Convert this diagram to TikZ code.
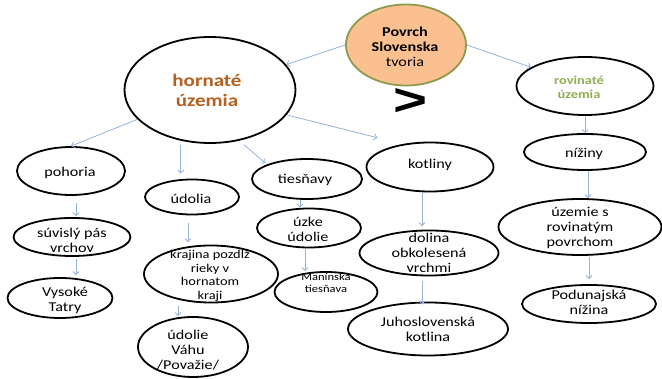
\documentclass[tikz,border=0pt]{standalone}
\usepackage{fontspec}
\setmainfont{Carlito}[FakeStretch=1.2]
\newfontfamily\gtfont{Liberation Sans}
\usetikzlibrary{arrows.meta,shapes.geometric}
\definecolor{arrc}{HTML}{95B3D7}
\definecolor{horncol}{HTML}{B5601E}
\definecolor{rovcol}{HTML}{8FAF55}
\definecolor{povfill}{HTML}{FAC090}
\definecolor{povdraw}{HTML}{8E9A4E}
\begin{document}
\begin{tikzpicture}[x=1pt,y=-1pt,
  ell/.style={ellipse, draw=black, line width=1.8pt, inner sep=0pt},
  sz/.style 2 args={minimum width=#1pt, minimum height=#2pt},
  txt/.style={align=center, inner sep=0pt, font=\fontsize{13.5}{15}\selectfont},
  arr/.style={draw=arrc, line width=0.8pt, -{Straight Barb[length=3pt,width=6pt]}}
]
\fill[white] (0,0) rectangle (662,379);
\useasboundingbox (0,0) rectangle (662,379);

% ellipses
\node[ell, sz={120}{81}, fill=povfill, draw=povdraw] (pov) at (406,45) {};
\node[ell, sz={171}{106}] (horn) at (210,90) {};
\node[ell, sz={137}{58}] (rov) at (585,86) {};
\node[ell, sz={108}{48}] (poh) at (71,171) {};
\node[ell, sz={94}{35}] (udo) at (192,197) {};
\node[ell, sz={110}{40}] (ties) at (307,179) {};
\node[ell, sz={127}{49}] (kot) at (430,167) {};
\node[ell, sz={122}{36}] (niz) at (585,152) {};
\node[ell, sz={117}{38}] (suv) at (72,237) {};
\node[ell, sz={105}{40}] (vys) at (60,298) {};
\node[ell, sz={134}{57}] (kraj) at (211,274) {};
\node[ell, sz={110}{60}] (vah) at (193,347) {};
\node[ell, sz={104}{39}] (uzk) at (309,228) {};
\node[ell, sz={103}{40}] (man) at (326,292) {};
\node[ell, sz={139}{45}] (dol) at (429,253) {};
\node[ell, sz={160}{53}] (juh) at (428,329) {};
\node[ell, sz={163}{56}] (uzr) at (580,227) {};
\node[ell, sz={134}{38}] (pod) at (589,304) {};

% texts
\node[txt] (pov-t) at (405,47) {\textbf{Povrch}\\\textbf{Slovenska}\\tvoria};
\node[txt, font=\fontsize{17.5}{20}\selectfont\bfseries, text=horncol] (horn-t) at (207,90) {hornaté\\územia};
\node[txt, font=\fontsize{12}{13.5}\selectfont\bfseries, text=rovcol] (rov-t) at (579,87.5) {rovinaté\\územia};
\node[txt] (poh-t) at (70,173) {pohoria};
\node[txt] (udo-t) at (191,199) {údolia};
\node[txt] (ties-t) at (305,180) {tiesňavy};
\node[txt] (kot-t) at (430,165) {kotliny};
\node[txt] (niz-t) at (584,154) {nížiny};
\node[txt] (suv-t) at (72,240) {súvislý pás\\vrchov};
\node[txt] (vys-t) at (65,300) {Vysoké\\Tatry};
\node[txt, font=\fontsize{12}{13.5}\selectfont] (kraj-t) at (210,276) {krajina pozdlž\\rieky v\\hornatom\\kraji};
\node[txt] (vah-t) at (188,350) {údolie\\Váhu\\/Považie/};
\node[txt] (uzk-t) at (308,229) {úzke\\údolie};
\node[txt, font=\fontsize{10.5}{12}\selectfont] (man-t) at (326,283) {Manínska\\tiesňava};
\node[txt] (dol-t) at (429,253) {dolina\\obkolesená\\vrchmi};
\node[txt] (juh-t) at (428,329.5) {Juhoslovenská\\kotlina};
\node[txt] (uzr-t) at (580,228) {územie s\\rovinatým\\povrchom};
\node[txt] (pod-t) at (589,302.5) {Podunajská\\nížina};
\node[inner sep=0pt] (gt) at (410,102.5) {\resizebox{34pt}{27pt}{\gtfont\bfseries >}};

% connectors
\draw[arr] (pov.west) -- (horn);
\draw[arr] (pov.east) -- (rov);
\draw[arr] (horn.202) -- (poh.north);
\draw[arr, shorten <=4pt, shorten >=5pt] (horn.240) -- (horn.240 |- udo.north);
\draw[arr, shorten <=6pt, shorten >=2pt] (horn.300) -- (ties.160);
\draw[arr, shorten >=26pt] (horn.342) -- (kot.140);
\draw[arr] (rov.south) -- (niz.north);
\draw[arr] ([xshift=3pt]niz.south) -- ([xshift=3pt]niz.south |- uzr.north);
\draw[arr, shorten <=1pt, shorten >=5pt] (pod.north |- uzr.south) -- (pod.north);
\draw[arr, shorten <=7pt, shorten >=1pt] ([xshift=5pt]poh.south) -- ([xshift=5pt]poh.south |- suv.north);
\draw[arr, shorten <=2pt, shorten >=2pt] ([xshift=4pt]suv.south) -- ([xshift=4pt]suv.south |- vys.north);
\draw[arr, shorten <=7.5pt, shorten >=2.5pt] ([xshift=-4pt]udo.south) -- ([xshift=-4pt]udo.south |- kraj.north);
\draw[arr, shorten <=2.5pt] ([xshift=-15pt]vah.north |- kraj.south) -- ([xshift=-15pt]vah.north);
\draw[arr] ([xshift=-7pt]ties.south) -- ([xshift=-7pt]ties.south |- uzk.north);
\draw[arr, shorten <=1pt] ([xshift=-4pt]uzk.south) -- ([xshift=-4pt]uzk.south |- man.north);
\draw[arr, shorten >=3.5pt] ([xshift=-8pt]kot.south) -- ([xshift=-8pt]kot.south |- dol.north);
\draw[arr, shorten <=4.5pt, shorten >=-3pt] ([xshift=-7pt]dol.south) -- ([xshift=-7pt]dol.south |- juh.north);
\end{tikzpicture}
\end{document}
